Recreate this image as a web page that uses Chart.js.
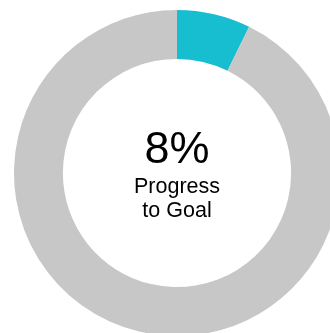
<!DOCTYPE html>
<html>
<head>
<meta charset="utf-8">
<script src="https://cdn.jsdelivr.net/npm/chart.js@4"></script>
<style>
    html, body { margin: 0; padding: 0; background: #fff; }
    body { width: 330px; height: 333px; overflow: hidden; position: relative; }
    #wrap { position: absolute; left: 14px; top: 10px; width: 326px; height: 326px; }
</style>
</head>
<body>
<div id="wrap"><canvas id="goalChart"></canvas></div>
<script>
const labels = ["Progress", "Remaining"];
const values = [7.3, 92.7];
const colors = ["#17becf", "#c7c7c7"];
const centerLines = ["8%", "Progress", "to Goal"];

// Draw the percentage and caption in the hole
const centerText = {
    id: "centerText",
    afterDraw(chart) {
        const ctx = chart.ctx;
        const area = chart.chartArea;
        const cx = (area.left + area.right) / 2;
        const cy = (area.top + area.bottom) / 2;

        ctx.save();
        ctx.fillStyle = "#000";
        ctx.textAlign = "center";
        ctx.textBaseline = "alphabetic";
        ctx.font = "45px 'Liberation Sans', Arial, sans-serif";
        ctx.fillText(centerLines[0], cx, cy - 10);
        ctx.font = "21.5px 'Liberation Sans', Arial, sans-serif";
        ctx.fillText(centerLines[1], cx, cy + 20);
        ctx.fillText(centerLines[2], cx, cy + 44);
        ctx.restore();
    }
};

new Chart(document.getElementById("goalChart").getContext("2d"), {
    type: "doughnut",
    data: {
        labels: labels,
        datasets: [{
            data: values,
            backgroundColor: colors,
            borderWidth: 0,
            hoverOffset: 0
        }]
    },
    options: {
        responsive: true,
        maintainAspectRatio: false,
        animation: false,
        cutout: "70%",
        layout: { padding: 0 },
        plugins: {
            legend: { display: false },
            tooltip: { enabled: false }
        }
    },
    plugins: [centerText]
});
</script>
</body>
</html>
